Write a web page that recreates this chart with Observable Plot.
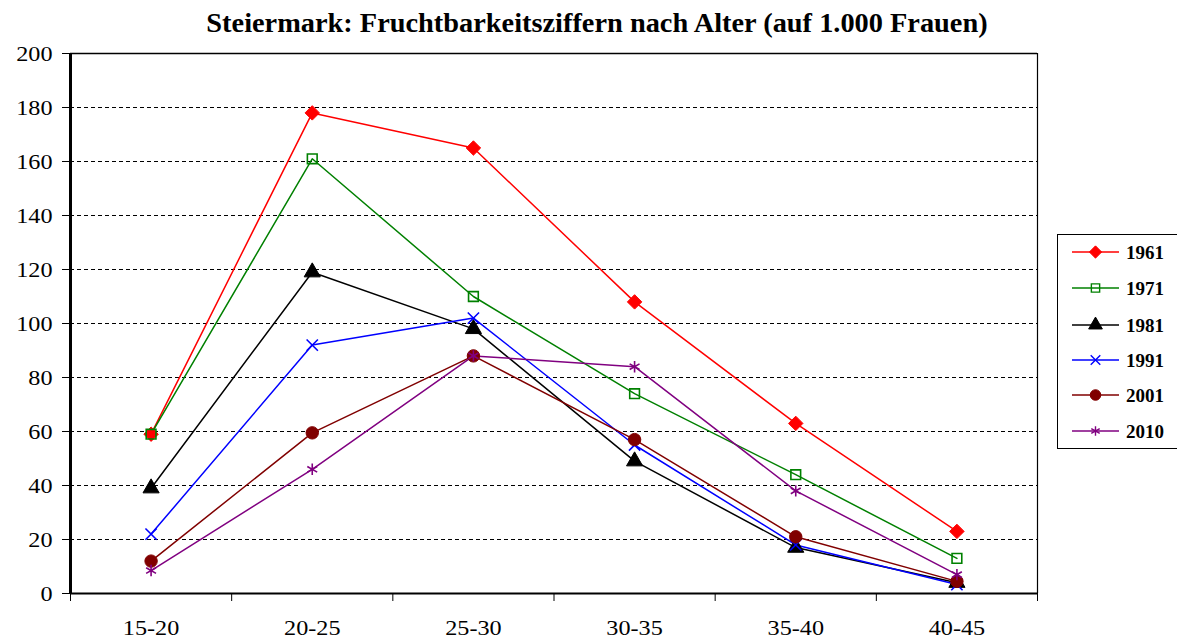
<!DOCTYPE html>
<html>
<head>
<meta charset="utf-8">
<script src="https://cdn.jsdelivr.net/npm/d3@7"></script>
<script src="https://cdn.jsdelivr.net/npm/@observablehq/plot@0.6"></script>
<style>
  html, body { margin: 0; padding: 0; background: #fff; }
  #wrap { position: relative; width: 1177px; height: 641px; overflow: hidden; font-family: "Liberation Serif", "Times New Roman", serif; }
  #title { position: absolute; left: 0; top: 7px; width: 1194px; text-align: center; font-weight: bold; font-size: 27px; line-height: 32px; color: #000; white-space: nowrap; transform: scaleX(1.05); transform-origin: 597px 0; }
  #chart { position: absolute; left: 0; top: 45px; }
  #legend { position: absolute; left: 1057px; top: 234px; width: 130px; height: 213px; border: 1.5px solid #000; background: #fff; }
</style>
</head>
<body>
<div id="wrap">
  <div id="title">Steiermark: Fruchtbarkeitsziffern nach Alter (auf 1.000 Frauen)</div>
  <div id="chart"></div>
  <div id="legend"></div>
</div>
<script>
const categories = ["15-20", "20-25", "25-30", "30-35", "35-40", "40-45"];
const years = ["1961", "1971", "1981", "1991", "2001", "2010"];
const values1961 = [59, 178, 165, 108, 63, 23];
const values1971 = [59, 161, 110, 74, 44, 13];
const values1981 = [39, 119, 98, 49, 17, 4];
const values1991 = [22, 92, 102, 55, 18, 3.3];
const values2001 = [12, 59.5, 88, 57, 21, 4.5];
const values2010 = [8.5, 46, 88, 84, 38, 7];
const yTicks = [0, 20, 40, 60, 80, 100, 120, 140, 160, 180, 200];
const colors = ["#ff0000", "#008000", "#000000", "#0000ff", "#800000", "#800080"];
const symbols = ["diamond2", "square2", "triangle", "times", "circle", "asterisk"];
const filled = [true, false, true, false, true, false];
const sizes = [6.5, 6.2, 6, 5.2, 6.2, 5.4];

const seriesValues = [values1961, values1971, values1981, values1991, values2001, values2010];
const table = [];
years.forEach((yr, s) => categories.forEach((c, i) => table.push({year: yr, s, cat: c, x: i + 0.5, value: seriesValues[s][i]})));

const marks = [
  Plot.ruleY(yTicks.filter(t => t > 0 && t < 200), {stroke: "#000", strokeWidth: 1, strokeDasharray: "4,3"}),
  Plot.ruleY([200], {stroke: "#000", strokeWidth: 1.5}),
  Plot.ruleX([6], {stroke: "#000", strokeWidth: 1.2}),
  Plot.axisY({ticks: yTicks, tickSize: 8, tickPadding: 10, tickFormat: d => String(d), fontSize: 22, label: null}),
  Plot.axisX({ticks: d3.range(0, 7), tickSize: 8, tickFormat: () => "", label: null}),
  Plot.axisX({ticks: categories.map((c, i) => i + 0.5), tickSize: 0, tickPadding: 26, tickFormat: d => categories[Math.round(d - 0.5)], fontSize: 22, label: null})
];
years.forEach((yr, s) => {
  const data = table.filter(d => d.s === s);
  marks.push(Plot.line(data, {x: "x", y: "value", stroke: colors[s], strokeWidth: 1.5}));
});
years.forEach((yr, s) => {
  const data = table.filter(d => d.s === s);
  marks.push(Plot.dot(data, {
    x: "x", y: "value", symbol: symbols[s], r: sizes[s],
    fill: filled[s] ? colors[s] : "none",
    stroke: colors[s], strokeWidth: filled[s] ? 1 : 1.6
  }));
});
marks.push(Plot.ruleY([0], {stroke: "#000", strokeWidth: 2}));
marks.push(Plot.ruleX([0], {stroke: "#000", strokeWidth: 3}));

const chart = Plot.plot({
  width: 1177,
  height: 596,
  marginTop: 8,
  marginBottom: 48,
  marginLeft: 70,
  marginRight: 140,
  style: {fontFamily: "'Liberation Serif', 'Times New Roman', serif", fontSize: "22px", color: "#000", background: "transparent", overflow: "visible"},
  x: {type: "linear", domain: [0, 6], axis: null},
  y: {domain: [0, 200], axis: null},
  marks
});
document.getElementById("chart").appendChild(chart);

// Slight horizontal stretch of tick labels (the reference's text is a little wide)
chart.querySelectorAll("text").forEach(t => {
  if (!t.textContent) return;
  const len = t.getComputedTextLength();
  if (len > 0) {
    t.setAttribute("textLength", (len * 1.1).toFixed(2));
    t.setAttribute("lengthAdjust", "spacingAndGlyphs");
  }
});

// Legend
const legW = 130, legH = 213;
const leg = d3.select("#legend").append("svg").attr("width", legW).attr("height", legH).style("display", "block");
const rowY = [17, 53, 90, 125, 160, 196];
const symMap = {diamond2: d3.symbolDiamond2, square2: d3.symbolSquare2, triangle: d3.symbolTriangle, times: d3.symbolTimes, circle: d3.symbolCircle, asterisk: d3.symbolAsterisk};
years.forEach((yr, s) => {
  const g = leg.append("g").attr("transform", `translate(0,${rowY[s]})`);
  g.append("line").attr("x1", 14).attr("x2", 61).attr("y1", 0).attr("y2", 0).attr("stroke", colors[s]).attr("stroke-width", 1.5);
  const r = sizes[s] * 0.85;
  g.append("path").attr("transform", "translate(37.5,0)")
    .attr("d", d3.symbol(symMap[symbols[s]], Math.PI * r * r)())
    .attr("fill", filled[s] ? colors[s] : "none")
    .attr("stroke", colors[s]).attr("stroke-width", filled[s] ? 1 : 1.4);
  g.append("text").attr("x", 68).attr("y", 0).attr("dy", "0.35em")
    .attr("font-family", "'Liberation Serif', 'Times New Roman', serif")
    .attr("font-weight", "bold").attr("font-size", 19).text(yr);
});
</script>
</body>
</html>
